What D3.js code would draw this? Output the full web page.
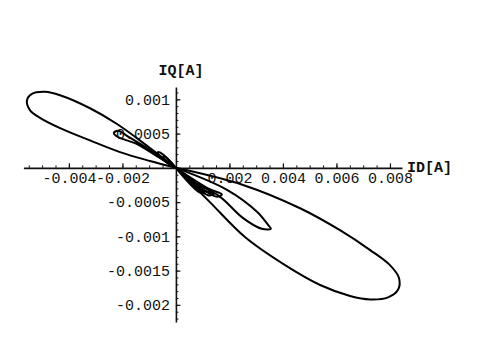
<!DOCTYPE html>
<html>
<head>
<meta charset="utf-8">
<script src="https://cdn.jsdelivr.net/npm/d3@7/dist/d3.min.js"></script>
<style>
  html, body { margin: 0; padding: 0; background: #fff; }
  svg { display: block; }
</style>
</head>
<body>
<svg id="chart" width="480" height="338"></svg>
<script>
// Current locus ID/IQ in amperes, one array per loop of the trajectory.
const bigLobeUpperLeft = [
  [0, 0], [-0.00097, 0.00029], [-0.00220, 0.00064], [-0.00321, 0.00087],
  [-0.00433, 0.00106], [-0.00489, 0.00111], [-0.00538, 0.00108], [-0.00557, 0.00098],
  [-0.00545, 0.00084], [-0.00508, 0.00073], [-0.00433, 0.00058], [-0.00321, 0.00040],
  [-0.00209, 0.00023], [-0.00097, 0.00010], [0, 0]
];
const smallLobeUpperLeft = [
  [0, 0], [-0.00097, 0.00026], [-0.00172, 0.00044], [-0.00217, 0.00054],
  [-0.00232, 0.00051], [-0.00217, 0.00045], [-0.00153, 0.00036], [-0.00079, 0.00019], [0, 0]
];
const smallLobeLowerRight = [
  [0, 0], [0.00191, -0.00032], [0.00303, -0.00064], [0.00344, -0.00083],
  [0.00355, -0.00089], [0.00321, -0.00089], [0.00250, -0.00073], [0.00164, -0.00042],
  [0.00064, -0.00020], [0, 0]
];
const bigLobeLowerRight = [
  [0, 0], [0.00251, -0.00025], [0.00464, -0.00059], [0.00613, -0.00091],
  [0.00726, -0.00120], [0.00800, -0.00142], [0.00834, -0.00161], [0.00830, -0.00178],
  [0.00793, -0.00189], [0.00726, -0.00192], [0.00651, -0.00187], [0.00539, -0.00171],
  [0.00408, -0.00142], [0.00258, -0.00101], [0.00127, -0.00050], [0, 0]
];
// Short loops wound tightly around the origin.
const originLoops = [
  [[0, 0], [-0.00050, 0.00020], [-0.00067, 0.00023], [-0.00060, 0.00016], [0, 0]],
  [[0, 0], [-0.00040, 0.00016], [-0.00049, 0.00015], [-0.00035, 0.00008], [0, 0]],
  [[0, 0], [0.00120, -0.00030], [0.00172, -0.00039], [0.00150, -0.00042], [0, 0]],
  [[0, 0], [0.00100, -0.00032], [0.00142, -0.00038], [0.00120, -0.00040], [0, 0]],
  [[0, 0], [0.00080, -0.00030], [0.00108, -0.00035], [0.00090, -0.00036], [0, 0]]
];

const xMajorTicks = [-0.004, -0.002, 0.002, 0.004, 0.006, 0.008];
const xTickLabels = ["-0.004", "-0.002", "0.002", "0.004", "0.006", "0.008"];
const yMajorTicks = [0.001, 0.0005, -0.0005, -0.001, -0.0015, -0.002];
const yTickLabels = ["0.001", "0.0005", "-0.0005", "-0.001", "-0.0015", "-0.002"];
const xAxisTitle = "ID[A]";
const yAxisTitle = "IQ[A]";

const svg = d3.select("#chart");

const x = d3.scaleLinear().domain([-0.0057, 0.00845]).range([23.4, 402]);
const y = d3.scaleLinear().domain([-0.00225, 0.00118]).range([322, 87]);

const x0 = x(0), y0 = y(0);
const font = '"Liberation Mono", "DejaVu Sans Mono", monospace';

// minor ticks
const xMinor = d3.range(-0.0055, 0.0084, 0.0005).filter(v => Math.abs(v) > 1e-9);
const yMinor = d3.range(-0.0022, 0.00116, 0.0001).filter(v => Math.abs(v) > 1e-9);

svg.append("g")
  .attr("transform", `translate(0,${y0})`)
  .call(d3.axisBottom(x).tickValues(xMinor).tickSizeInner(-2.5).tickSizeOuter(0).tickFormat(""))
  .call(g => g.select(".domain").remove())
  .call(g => g.selectAll("line").attr("stroke", "#111").attr("stroke-width", 1));

svg.append("g")
  .attr("transform", `translate(${x0},0)`)
  .call(d3.axisLeft(y).tickValues(yMinor).tickSizeInner(-2.5).tickSizeOuter(0).tickFormat(""))
  .call(g => g.select(".domain").remove())
  .call(g => g.selectAll("line").attr("stroke", "#111").attr("stroke-width", 1));

// major ticks and labels
svg.append("g")
  .attr("transform", `translate(0,${y0})`)
  .call(d3.axisBottom(x).tickValues(xMajorTicks).tickSizeInner(-4.5).tickSizeOuter(0)
    .tickPadding(5).tickFormat((d, i) => xTickLabels[i]))
  .call(g => g.select(".domain").attr("stroke", "#111").attr("stroke-width", 1.6))
  .call(g => g.selectAll("line").attr("stroke", "#111").attr("stroke-width", 1.2))
  .call(g => g.selectAll("text").attr("fill", "#111").attr("font-size", 15).attr("font-family", font));

svg.append("g")
  .attr("transform", `translate(${x0},0)`)
  .call(d3.axisLeft(y).tickValues(yMajorTicks).tickSizeInner(-4.5).tickSizeOuter(0)
    .tickPadding(6).tickFormat((d, i) => yTickLabels[i]))
  .call(g => g.select(".domain").attr("stroke", "#111").attr("stroke-width", 1.6))
  .call(g => g.selectAll("line").attr("stroke", "#111").attr("stroke-width", 1.2))
  .call(g => g.selectAll("text").attr("fill", "#111").attr("font-size", 15).attr("font-family", font));

// axis titles
svg.append("text")
  .attr("x", x0 + 5).attr("y", y(0.00118) - 12)
  .attr("text-anchor", "middle")
  .attr("font-family", font).attr("font-size", 15).attr("font-weight", "bold").attr("fill", "#111")
  .text(yAxisTitle);

svg.append("text")
  .attr("x", x(0.00845) + 5).attr("y", y0 + 4)
  .attr("text-anchor", "start")
  .attr("font-family", font).attr("font-size", 15).attr("font-weight", "bold").attr("fill", "#111")
  .text(xAxisTitle);

// trajectory
const line = d3.line()
  .x(d => x(d[0])).y(d => y(d[1]))
  .curve(d3.curveCatmullRom.alpha(0.5));

const loops = [bigLobeUpperLeft, smallLobeUpperLeft, smallLobeLowerRight, bigLobeLowerRight, ...originLoops];

svg.append("g")
  .selectAll("path")
  .data(loops)
  .join("path")
  .attr("d", line)
  .attr("fill", "none")
  .attr("stroke", "#000")
  .attr("stroke-width", 2)
  .attr("stroke-linejoin", "round");
</script>
</body>
</html>
